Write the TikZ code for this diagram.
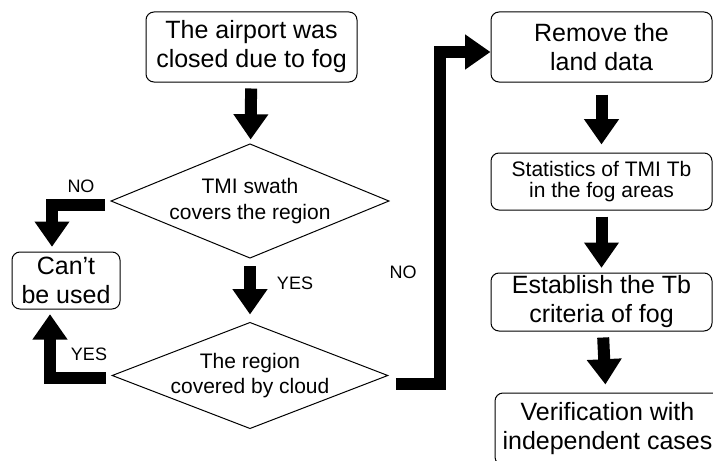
\documentclass[tikz,border=0pt]{standalone}
\usepackage{fontspec}
\setmainfont{Liberation Sans}
\usepackage{tikz}
\usetikzlibrary{shapes.geometric,arrows.meta}
\tikzstyle{startstop} = [rectangle, rounded corners=6pt, text centered, align=center, draw=black, line width=0.75pt, inner sep=1pt, font=\fontsize{18.75}{21.75}\selectfont]
\tikzstyle{smallstop} = [startstop, font=\fontsize{15.75}{15.5}\selectfont]
\tikzstyle{decision} = [diamond, aspect=2.6, inner sep=0pt, outer sep=0pt, text centered, align=center, draw=black, line width=0.75pt, font=\fontsize{15.75}{19}\selectfont]
\tikzstyle{answer} = [inner sep=0pt, font=\fontsize{13.5}{16}\selectfont]
\tikzstyle{arrow} = [line width=9pt, -{Triangle[width=25pt,length=19pt]}, shorten <=4.5pt, shorten >=3.5pt]

\begin{document}
\begin{tikzpicture}[x=0.75pt, y=-0.75pt]
        \useasboundingbox (0,0) rectangle (713,460);
        \node(start) [startstop, minimum width=158.25pt, minimum height=52.5pt] at (251.5,47) {The airport was\\closed due to fog};
        \node(dec1) [decision, minimum width=204.75pt, minimum height=85.5pt] at (250,201) {TMI swath\\covers the region};
        \node(dec2) [decision, minimum width=205.5pt, minimum height=77.25pt] at (250,375.5) {The region\\covered by cloud};
        \node(cant) [startstop, minimum width=81pt, minimum height=42.75pt] at (66,280.5) {Can’t\\be used};
        \node(rem) [startstop, minimum width=165.75pt, minimum height=52.5pt] at (601.5,47) {Remove the\\land data};
        \node(stat) [smallstop, minimum width=165.75pt, minimum height=42.75pt] at (601.5,181.5) {Statistics of TMI Tb\\in the fog areas};
        \node(est) [startstop, minimum width=165.75pt, minimum height=43.5pt] at (601.5,302) {Establish the Tb\\criteria of fog};
        \node(ver) [startstop, minimum width=168.75pt, minimum height=54pt] at (607.5,429) {Verification with\\independent cases};
        % answers
        \node(no1) [answer] at (81,186) {NO};
        \node(yes1) [answer] at (295,283) {YES};
        \node(yes2) [answer] at (89,354) {YES};
        \node(no2) [answer] at (403,272) {NO};
        \draw [arrow] (start)--(dec1);
        \draw [arrow, shorten <=6pt, shorten >=6pt] (dec1)--(dec2);
        \draw [arrow] ([shift={(0,4)}]dec1.west) -| ([shift={(-14,0)}]cant.north);
        \draw [arrow] ([shift={(0,2)}]dec2.west) -| ([shift={(-16,0)}]cant.south);
        \draw [arrow, shorten >=0pt] ([shift={(2,8)}]dec2.east) -| ([shift={(-51,5)}]rem.west) -- ([shift={(0,5)}]rem.west);
        \draw [arrow, shorten <=9pt, shorten >=6pt] (rem)--(stat);
        \draw [arrow] (stat)--(est);
        \draw [arrow, shorten >=6pt] (est)--(ver);
    \end{tikzpicture}
\end{document}
